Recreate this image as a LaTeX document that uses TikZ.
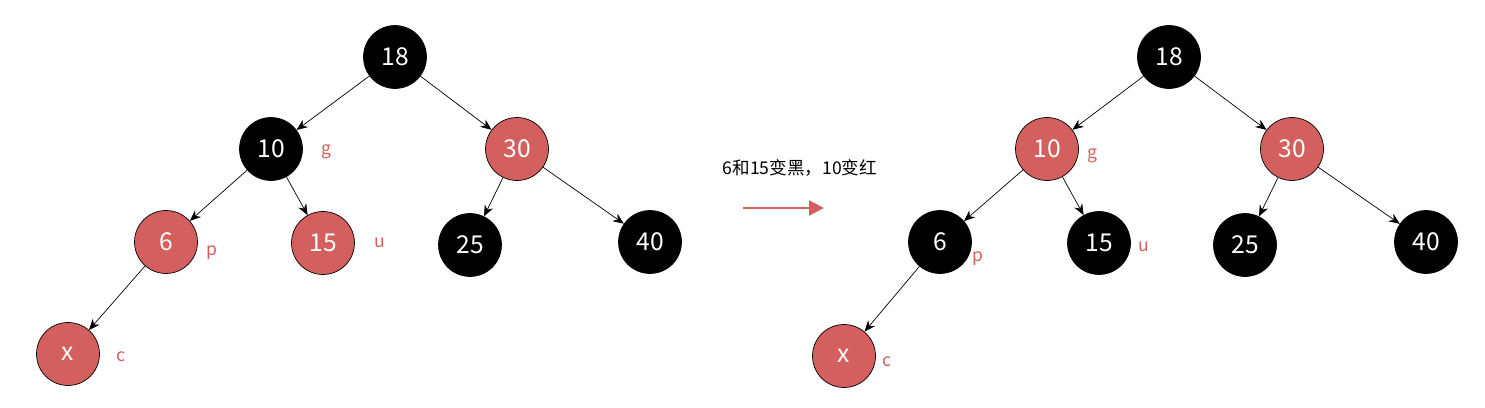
\documentclass[tikz,border=0pt]{standalone}
\usepackage{fontspec}
\setmainfont{Noto Sans CJK SC}
\usetikzlibrary{arrows.meta}
\definecolor{rbred}{HTML}{D45F5F}
\tikzset{
  rbnode/.style={circle, draw=black, thin, minimum size=1.26cm, inner sep=0pt, font=\fontsize{14}{16}\selectfont, text=white},
  blk/.style={rbnode, fill=black},
  rd/.style={rbnode, fill=rbred},
  tag/.style={text=rbred, font=\fontsize{10}{12}\selectfont},
  edge/.style={-{Stealth[length=2.2mm,width=1.8mm]}, black, thin}
}
\begin{document}
\begin{tikzpicture}[x=0.02cm, y=-0.02cm]
\useasboundingbox (0,0) rectangle (1485,408);
% left tree, before
\node[blk] (La) at (395,57) {18};
\node[blk] (Lb) at (271,149) {10};
\node[rd] (Lc) at (517,149) {30};
\node[rd] (Ld) at (166,242) {6};
\node[rd] (Le) at (323,243) {15};
\node[blk] (Lf) at (470,245) {25};
\node[blk] (Lg) at (650,242) {40};
\node[rd] (Lh) at (68,354) {x};
\node[tag] (Lg1) at (326,152) {g};
\node[tag] (Lp1) at (212,253) {p};
\node[tag] (Lu1) at (380,243) {u};
\node[tag] (Lc1) at (121,357) {c};
\draw[edge] (La) -- (Lb);
\draw[edge] (La) -- (Lc);
\draw[edge] (Lb) -- (Ld);
\draw[edge] (Lb) -- (Le);
\draw[edge] (Lc) -- (Lf);
\draw[edge] (Lc) -- (Lg);
\draw[edge] (Ld) -- (Lh);
%------------------
\node[font=\fontsize{10}{12}\selectfont] (msg) at (800,168) {6和15变黑，10变红};
\coordinate (m1) at (743,208);
\coordinate (m2) at (824,208);
\draw[-{Triangle[length=3mm,width=3mm]}, rbred, line width=1.2pt] (m1) -- (m2);
%------------------
% right tree, after
\node[blk] (Ra) at (1169,57) {18};
\node[rd] (Rb) at (1047,149) {10};
\node[rd] (Rc) at (1292,149) {30};
\node[blk] (Rd) at (940,242) {6};
\node[blk] (Re) at (1099,243) {15};
\node[blk] (Rf) at (1245,245) {25};
\node[blk] (Rg) at (1426,242) {40};
\node[rd] (Rh) at (844,356) {x};
\node[tag] (Rg1) at (1092,156) {g};
\node[tag] (Rp1) at (978,259) {p};
\node[tag] (Ru1) at (1144,247) {u};
\node[tag] (Rc1) at (887,362) {c};
\draw[edge] (Ra) -- (Rb);
\draw[edge] (Ra) -- (Rc);
\draw[edge] (Rb) -- (Rd);
\draw[edge] (Rb) -- (Re);
\draw[edge] (Rc) -- (Rf);
\draw[edge] (Rc) -- (Rg);
\draw[edge] (Rd) -- (Rh);
\end{tikzpicture}
\end{document}
